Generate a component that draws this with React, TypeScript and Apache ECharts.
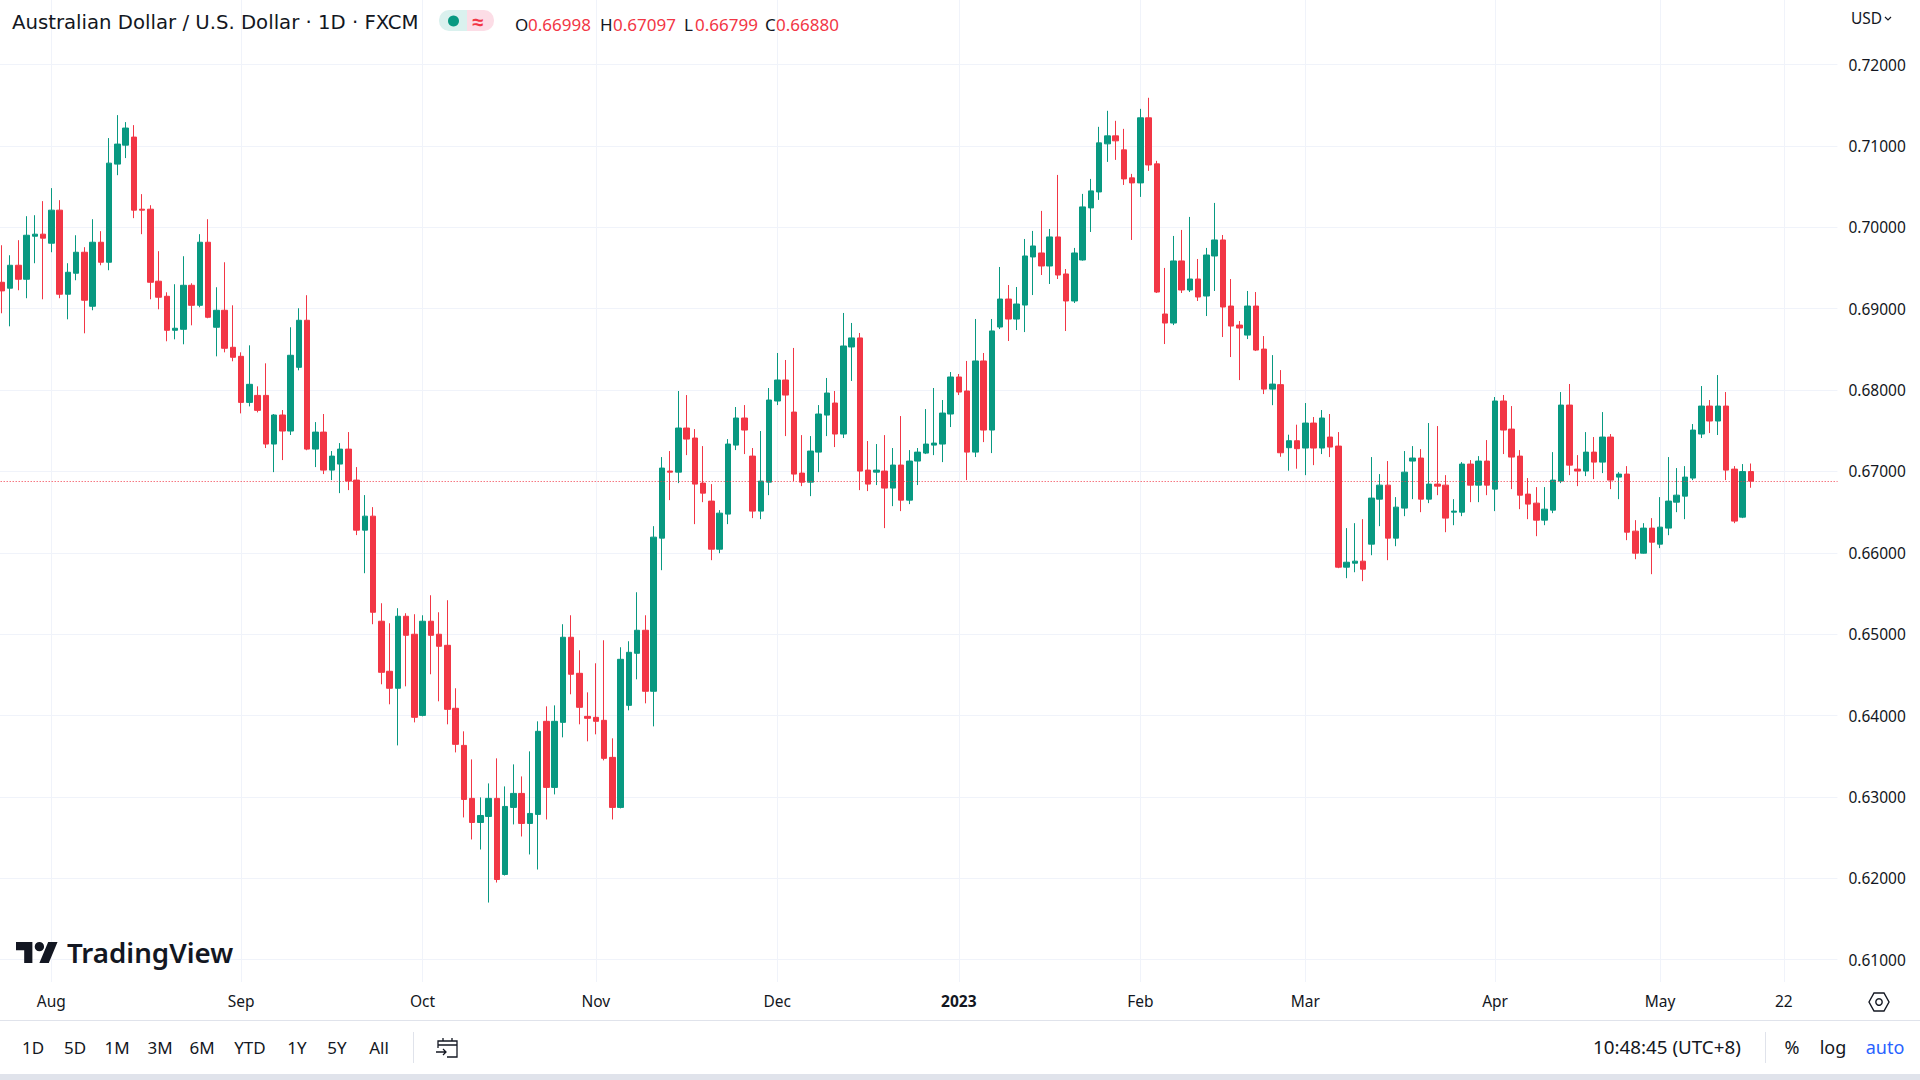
import React, { useEffect, useRef } from "react";
import * as echarts from "echarts";

// Each row: [open, high, low, close]
const jul22 = [
  [0.69324, 0.69779, 0.68943, 0.69218], [0.69251, 0.69656, 0.68783, 0.69533], [0.69533, 0.69841, 0.69226, 0.69361],
  [0.69361, 0.70136, 0.69128, 0.69902], [0.6989, 0.70148, 0.69558, 0.69915], [0.69915, 0.70321, 0.69115, 0.69866],
];
const aug22 = [
  [0.69804, 0.70481, 0.69693, 0.7021], [0.7021, 0.70333, 0.69128, 0.69177], [0.69177, 0.69558, 0.68869, 0.69447],
  [0.69435, 0.69902, 0.69349, 0.69693], [0.69693, 0.69755, 0.68697, 0.69103], [0.69029, 0.70099, 0.6898, 0.69816],
  [0.69816, 0.69952, 0.69533, 0.6957], [0.6957, 0.71096, 0.69472, 0.70788], [0.70776, 0.71378, 0.7064, 0.71022],
  [0.71009, 0.71292, 0.7085, 0.71219], [0.71108, 0.71255, 0.70112, 0.7021], [0.70222, 0.70407, 0.69915, 0.7021],
  [0.70222, 0.70271, 0.69115, 0.69324], [0.69337, 0.69706, 0.68992, 0.6914], [0.69152, 0.69201, 0.68599, 0.68734],
  [0.68734, 0.693, 0.68623, 0.68759], [0.68746, 0.69644, 0.68562, 0.69287], [0.69287, 0.69312, 0.68795, 0.69041],
  [0.69041, 0.69915, 0.69017, 0.69816], [0.69816, 0.70099, 0.68882, 0.68894], [0.68771, 0.69263, 0.68414, 0.6898],
  [0.6898, 0.6957, 0.68463, 0.68513], [0.68525, 0.69041, 0.68353, 0.68402],
];
const sep22 = [
  [0.68414, 0.68463, 0.67713, 0.67848], [0.67848, 0.68549, 0.67799, 0.6807], [0.67934, 0.68045, 0.67725, 0.6775],
  [0.67934, 0.68328, 0.67287, 0.67336], [0.67336, 0.67705, 0.66991, 0.67693], [0.67693, 0.67754, 0.67139, 0.67496],
  [0.67496, 0.68771, 0.67447, 0.68427], [0.68279, 0.69005, 0.68242, 0.68857], [0.68857, 0.69165, 0.6726, 0.67274],
  [0.67274, 0.67606, 0.67053, 0.67483], [0.67483, 0.67705, 0.66967, 0.67016], [0.67016, 0.6725, 0.66893, 0.67188],
  [0.6709, 0.67348, 0.66733, 0.67274], [0.67274, 0.67483, 0.6677, 0.66881], [0.66893, 0.67053, 0.66217, 0.66278],
  [0.66278, 0.66709, 0.65749, 0.6645], [0.6645, 0.66561, 0.65122, 0.65269], [0.65159, 0.6538, 0.64384, 0.64531],
  [0.64544, 0.65134, 0.64138, 0.64335], [0.64335, 0.65319, 0.63633, 0.6522], [0.6522, 0.65257, 0.64359, 0.64986],
  [0.64999, 0.65245, 0.63916, 0.63978],
];
const oct22 = [
  [0.64002, 0.65232, 0.6399, 0.65159], [0.65159, 0.65478, 0.64507, 0.64986], [0.64999, 0.65269, 0.64175, 0.64851],
  [0.64863, 0.65417, 0.63892, 0.64076], [0.64089, 0.64335, 0.63547, 0.63646], [0.63633, 0.63806, 0.62748, 0.62969],
  [0.62982, 0.63461, 0.62477, 0.62686], [0.62686, 0.62994, 0.62354, 0.62772], [0.6276, 0.63166, 0.61702, 0.62982],
  [0.62982, 0.63474, 0.61948, 0.61985], [0.62047, 0.63129, 0.62034, 0.62883], [0.62871, 0.634, 0.62662, 0.63043],
  [0.63043, 0.63252, 0.62514, 0.62674], [0.62674, 0.6356, 0.62293, 0.62797], [0.62785, 0.63929, 0.62108, 0.63806],
  [0.63929, 0.64113, 0.62723, 0.63117], [0.63117, 0.64125, 0.63031, 0.63929], [0.63916, 0.65122, 0.63732, 0.64962],
  [0.64962, 0.65232, 0.64261, 0.64507], [0.64519, 0.64802, 0.63892, 0.64101], [0.6399, 0.64285, 0.63683, 0.63966],
];
const nov22 = [
  [0.63978, 0.64642, 0.63769, 0.63929], [0.63941, 0.64925, 0.63449, 0.63474], [0.63486, 0.6372, 0.62723, 0.62871],
  [0.62871, 0.64839, 0.62859, 0.64691], [0.64125, 0.64913, 0.64064, 0.64777], [0.64765, 0.65515, 0.64445, 0.65048],
  [0.65048, 0.65232, 0.6415, 0.64298], [0.64298, 0.66327, 0.63867, 0.66192], [0.6618, 0.67176, 0.65786, 0.67041],
  [0.67004, 0.6725, 0.66647, 0.66991], [0.66991, 0.67988, 0.66856, 0.67533], [0.67533, 0.67938, 0.672, 0.67397],
  [0.6741, 0.6752, 0.66352, 0.66844], [0.66856, 0.67311, 0.66622, 0.66733], [0.66635, 0.66844, 0.65909, 0.66044],
  [0.66044, 0.66524, 0.65995, 0.66487], [0.66475, 0.67397, 0.66352, 0.67336], [0.67323, 0.67791, 0.67262, 0.67656],
  [0.67656, 0.67815, 0.67213, 0.67508], [0.67188, 0.67287, 0.66426, 0.66512], [0.66512, 0.67496, 0.66413, 0.66881],
  [0.66868, 0.68025, 0.66708, 0.67877],
];
const dec22 = [
  [0.67865, 0.68455, 0.67815, 0.68123], [0.68123, 0.68369, 0.67434, 0.67938], [0.67729, 0.68517, 0.66881, 0.66967],
  [0.66979, 0.67446, 0.66819, 0.66868], [0.66868, 0.67434, 0.66696, 0.6725], [0.67237, 0.67815, 0.66991, 0.67705],
  [0.67692, 0.68148, 0.67434, 0.67963], [0.6784, 0.67988, 0.67299, 0.67459], [0.67459, 0.68947, 0.6741, 0.68541],
  [0.68529, 0.68824, 0.68111, 0.6864], [0.6864, 0.68701, 0.6677, 0.67004], [0.67016, 0.67373, 0.66758, 0.66844],
  [0.66991, 0.67336, 0.66832, 0.67016], [0.67004, 0.67446, 0.66303, 0.66795], [0.66795, 0.67287, 0.66573, 0.67078],
  [0.67078, 0.6768, 0.66512, 0.66647], [0.66647, 0.67262, 0.66598, 0.67127], [0.67127, 0.67287, 0.66832, 0.67237],
  [0.67225, 0.67766, 0.67213, 0.67336], [0.67323, 0.68025, 0.672, 0.67348], [0.67336, 0.67877, 0.67114, 0.67717],
  [0.67705, 0.68221, 0.67545, 0.6816],
];
const jan23 = [
  [0.6816, 0.68197, 0.67938, 0.67975], [0.67988, 0.68357, 0.66893, 0.67237], [0.67237, 0.68873, 0.67176, 0.68357],
  [0.68357, 0.68455, 0.6736, 0.67508], [0.67508, 0.68873, 0.67225, 0.68726], [0.68774, 0.69512, 0.68749, 0.69118],
  [0.69118, 0.6929, 0.68602, 0.68872], [0.68872, 0.69266, 0.68737, 0.69057], [0.69044, 0.69856, 0.68712, 0.69647],
  [0.69635, 0.69955, 0.69167, 0.6977], [0.69684, 0.70201, 0.69413, 0.69524], [0.69524, 0.69979, 0.69303, 0.69881],
  [0.69881, 0.70643, 0.69364, 0.69413], [0.69426, 0.69487, 0.68725, 0.69094], [0.69094, 0.69746, 0.69069, 0.69684],
  [0.69598, 0.7041, 0.6959, 0.7025], [0.70238, 0.70594, 0.69942, 0.70447], [0.70434, 0.71234, 0.70336, 0.71037],
  [0.71025, 0.71431, 0.70803, 0.71123], [0.71123, 0.71308, 0.70828, 0.71062], [0.70951, 0.71209, 0.7052, 0.70594],
  [0.70607, 0.70656, 0.69844, 0.70545],
];
const feb23 = [
  [0.70545, 0.71455, 0.70373, 0.71345], [0.71345, 0.71591, 0.70693, 0.70766], [0.70779, 0.70816, 0.69192, 0.69204],
  [0.68934, 0.695, 0.68565, 0.68823], [0.68823, 0.69893, 0.68798, 0.69586], [0.69586, 0.69967, 0.69192, 0.69229],
  [0.69229, 0.70127, 0.69204, 0.69364], [0.69364, 0.6961, 0.69094, 0.69143], [0.69155, 0.69746, 0.68909, 0.69659],
  [0.69647, 0.70299, 0.69217, 0.69844], [0.69844, 0.69905, 0.68651, 0.6902], [0.69032, 0.69364, 0.68405, 0.68786],
  [0.68798, 0.68848, 0.68122, 0.68762], [0.68675, 0.69217, 0.68626, 0.69032], [0.69032, 0.69204, 0.68479, 0.68491],
  [0.68503, 0.68663, 0.6795, 0.68011], [0.68011, 0.68429, 0.67814, 0.68073], [0.68066, 0.68245, 0.6718, 0.67229],
  [0.67291, 0.67451, 0.67008, 0.67377], [0.67377, 0.67574, 0.67033, 0.67279],
];
const mar23 = [
  [0.67287, 0.6784, 0.66954, 0.67594], [0.67594, 0.67668, 0.67077, 0.67287], [0.67287, 0.67754, 0.67213, 0.67656],
  [0.67422, 0.67705, 0.67176, 0.67299], [0.67311, 0.67483, 0.65811, 0.65823], [0.65823, 0.66303, 0.65688, 0.65884],
  [0.65872, 0.66364, 0.65761, 0.65897], [0.65897, 0.66413, 0.65651, 0.65798], [0.66106, 0.67176, 0.6597, 0.66672],
  [0.66659, 0.66967, 0.66327, 0.66831], [0.66831, 0.67127, 0.65909, 0.6618], [0.6618, 0.66684, 0.66081, 0.66561],
  [0.66549, 0.6725, 0.6645, 0.66991], [0.67127, 0.67311, 0.66659, 0.67164], [0.67164, 0.67274, 0.66499, 0.66659],
  [0.66659, 0.67594, 0.6661, 0.66844], [0.66844, 0.67557, 0.66708, 0.66819], [0.66831, 0.66954, 0.66253, 0.66426],
  [0.66499, 0.66659, 0.66339, 0.66512], [0.66499, 0.67114, 0.6645, 0.6709], [0.6709, 0.67139, 0.66622, 0.66831],
  [0.66831, 0.67188, 0.66622, 0.67127], [0.67127, 0.67385, 0.66708, 0.66831],
];
const apr23 = [
  [0.66782, 0.67914, 0.66512, 0.67865], [0.67865, 0.67939, 0.67213, 0.67508], [0.6752, 0.67803, 0.66782, 0.67176],
  [0.67188, 0.67262, 0.66536, 0.66708], [0.66721, 0.66918, 0.66413, 0.66598], [0.6661, 0.66807, 0.66204, 0.66401],
  [0.66401, 0.66807, 0.66339, 0.66536], [0.66524, 0.67237, 0.66487, 0.66893], [0.66881, 0.67975, 0.66856, 0.67815],
  [0.67815, 0.68074, 0.66954, 0.67077], [0.67028, 0.672, 0.66819, 0.67004], [0.67004, 0.67483, 0.66942, 0.67237],
  [0.67237, 0.67422, 0.66905, 0.67114], [0.67114, 0.67729, 0.66979, 0.67422], [0.67422, 0.67459, 0.66782, 0.66893],
  [0.6693, 0.66991, 0.66659, 0.66967], [0.66967, 0.67065, 0.66155, 0.66253], [0.66266, 0.66401, 0.65921, 0.65995],
  [0.65995, 0.66364, 0.6599, 0.66303], [0.66303, 0.66426, 0.65737, 0.6613],
];
const may23 = [
  [0.66106, 0.66684, 0.66057, 0.66315], [0.66303, 0.67176, 0.66216, 0.66635], [0.66622, 0.67041, 0.66499, 0.66708],
  [0.66696, 0.67065, 0.66413, 0.6693], [0.66918, 0.67582, 0.66893, 0.67508], [0.67459, 0.68049, 0.6741, 0.67803],
  [0.67803, 0.67877, 0.67471, 0.67619], [0.67619, 0.68184, 0.67447, 0.67803], [0.67803, 0.67975, 0.66893, 0.67016],
  [0.67028, 0.67065, 0.66364, 0.66389], [0.66438, 0.6709, 0.66426, 0.66998], [0.66998, 0.67097, 0.66799, 0.6688],
];
const candles = [...jul22, ...aug22, ...sep22, ...oct22, ...nov22, ...dec22, ...jan23, ...feb23, ...mar23, ...apr23, ...may23];

const priceTicks = [0.61, 0.62, 0.63, 0.64, 0.65, 0.66, 0.67, 0.68, 0.69, 0.7, 0.71, 0.72];
const dateTicks: Record<string, string> = {
  "2022-08-01": "Aug", "2022-09-01": "Sep", "2022-10-03": "Oct", "2022-11-01": "Nov", "2022-12-01": "Dec",
  "2023-01-02": "2023", "2023-02-01": "Feb", "2023-03-01": "Mar", "2023-04-03": "Apr", "2023-05-01": "May", "2023-05-22": "22",
};
const rangeButtons = [["1D", 33], ["5D", 75], ["1M", 117], ["3M", 160], ["6M", 202], ["YTD", 250], ["1Y", 297], ["5Y", 337], ["All", 379]] as const;
const lastClose = 0.6688;

const weekdays: string[] = [];
for (let d = Date.UTC(2022, 6, 22); weekdays.length < 223; d += 86400000) {
  const day = new Date(d);
  if (day.getUTCDay() % 6 !== 0) weekdays.push(day.toISOString().slice(0, 10));
}

const BAND = 8.25;
const FONT = '"Noto Sans", sans-serif';
const TITLE_FONT = '"DejaVu Sans", sans-serif';
const INK = "#131722";
const GRID = "#f0f3fa";
const RED = "#f23645";
const GREEN = "#089981";

echarts.graphic.registerShape(
  "tvmark",
  echarts.graphic.extendPath("M14 22H7V11H0V4h14v18zM28 22h-8l7.5-18h8L28 22zM24 8a4 4 0 1 1-8 0a4 4 0 1 1 8 0z", {})
);
echarts.graphic.registerShape(
  "calmark",
  echarts.graphic.extendPath("M2 11V4H21V20H11M2 8H21M7 1V4M16 1V4M0 15H10M7 12L10 15L7 18", {})
);

const txt = (text: string, x: number, y: number, size: number, fill = INK, align = "left", weight = 400, family = FONT) => ({
  type: "text",
  z: 10,
  style: { text, x, y, fill, align, verticalAlign: "middle", font: `${weight} ${size}px ${family}` },
});

export default function App() {
  const ref = useRef<HTMLDivElement>(null);
  useEffect(() => {
    const chart = echarts.init(ref.current!, null, { renderer: "svg" });
    const graphics: any[] = [
      { type: "rect", z: 9, shape: { x: 0, y: 1020, width: 1920, height: 1 }, style: { fill: "#e0e3eb" } },
      { type: "rect", z: 9, shape: { x: 0, y: 1074, width: 1920, height: 6 }, style: { fill: "#e0e3eb" } },
      { type: "rect", z: 9, shape: { x: 413, y: 1032, width: 1, height: 31 }, style: { fill: "#e0e3eb" } },
      { type: "rect", z: 9, shape: { x: 1765, y: 1032, width: 1, height: 31 }, style: { fill: "#e0e3eb" } },
      txt("Australian Dollar / U.S. Dollar · 1D · FXCM", 12, 22, 19.7, INK, "left", 400, TITLE_FONT),
      { type: "rect", z: 9, shape: { x: 439, y: 10, width: 28, height: 21, r: [10, 0, 0, 10] }, style: { fill: "#daf1ee" } },
      { type: "rect", z: 9, shape: { x: 467, y: 10, width: 27, height: 21, r: [0, 10, 10, 0] }, style: { fill: "#fcdde6" } },
      { type: "circle", z: 10, shape: { cx: 453.5, cy: 21, r: 5.5 }, style: { fill: GREEN } },
      txt("≈", 478, 21, 20, RED, "center", 700),
      txt("O", 515, 24, 17), txt("0.66998", 528, 24, 17, RED),
      txt("H", 600, 24, 17), txt("0.67097", 613, 24, 17, RED),
      txt("L", 684, 24, 17), txt("0.66799", 695, 24, 17, RED),
      txt("C", 765, 24, 17), txt("0.66880", 776, 24, 17, RED),
      txt("USD", 1851, 18, 15.5),
      { type: "polyline", z: 10, shape: { points: [[1885, 17], [1888, 20], [1891, 17]] }, style: { stroke: INK, lineWidth: 1.2, fill: "none" } },
      { type: "tvmark", z: 10, x: 16, y: 937.3, scaleX: 1.17, scaleY: 1.17, style: { fill: INK } },
      txt("TradingView", 67, 952, 27.7, INK, "left", 600),
      ...rangeButtons.map(([label, x]) => txt(label, x, 1047, 17, INK, "center")),
      { type: "calmark", z: 10, x: 436, y: 1037, style: { fill: "none", stroke: INK, lineWidth: 1.3 } },
      txt("10:48:45 (UTC+8)", 1593, 1047, 18.8),
      txt("%", 1792, 1047, 18, INK, "center"),
      txt("log", 1833, 1047, 18, INK, "center"),
      txt("auto", 1885, 1047, 18, "#2962ff", "center"),
      { type: "polygon", z: 10, shape: { points: [[1869, 1002], [1874, 993], [1884, 993], [1889, 1002], [1884, 1011], [1874, 1011]] }, style: { fill: "none", stroke: INK, lineWidth: 1.4 } },
      { type: "circle", z: 10, shape: { cx: 1879, cy: 1002, r: 3.2 }, style: { fill: "none", stroke: INK, lineWidth: 1.4 } },
    ];
    chart.setOption({
      animation: false,
      backgroundColor: "#ffffff",
      grid: { left: -2.325, top: 0, width: 223 * BAND, height: 982, outerBoundsMode: "none" },
      xAxis: {
        type: "category",
        data: weekdays,
        boundaryGap: true,
        axisLine: { show: false },
        axisTick: { show: false },
        splitLine: {
          show: true,
          alignWithLabel: true,
          interval: (_: number, v: string) => v in dateTicks,
          lineStyle: { color: GRID, width: 1 },
        },
        axisLabel: {
          interval: (_: number, v: string) => v in dateTicks,
          formatter: (v: string) => (dateTicks[v] === "2023" ? "{b|2023}" : dateTicks[v] ?? ""),
          color: INK,
          fontFamily: FONT,
          fontSize: 15.5,
          margin: 11,
          hideOverlap: false,
          rich: { b: { fontWeight: 700, fontFamily: FONT, fontSize: 15.5, color: INK } },
        },
      },
      yAxis: {
        type: "value",
        position: "right",
        min: 0.607257,
        max: 0.727926,
        axisLine: { show: false },
        axisTick: { show: false, customValues: priceTicks },
        splitLine: { show: true, lineStyle: { color: GRID, width: 1 } },
        axisLabel: {
          customValues: priceTicks,
          formatter: (v: number) => v.toFixed(5),
          color: INK,
          fontFamily: FONT,
          fontSize: 15.5,
          margin: 11,
          padding: [0, 0, 2, 0],
        },
      },
      series: [
        {
          type: "candlestick",
          barWidth: 6,
          data: candles.map(([o, h, l, c]) => [o, c, l, h]),
          itemStyle: { color: GREEN, color0: RED, borderColor: GREEN, borderColor0: RED, borderWidth: 1 },
          markLine: {
            silent: true,
            symbol: "none",
            precision: 5,
            label: { show: false },
            lineStyle: { color: RED, type: [1, 2], width: 1 },
            data: [{ yAxis: lastClose }],
          },
        },
      ],
      graphic: { elements: graphics },
    });
    return () => chart.dispose();
  }, []);
  return <div ref={ref} style={{ position: "fixed", left: 0, top: 0, width: 1920, height: 1080, background: "#fff" }} />;
}
